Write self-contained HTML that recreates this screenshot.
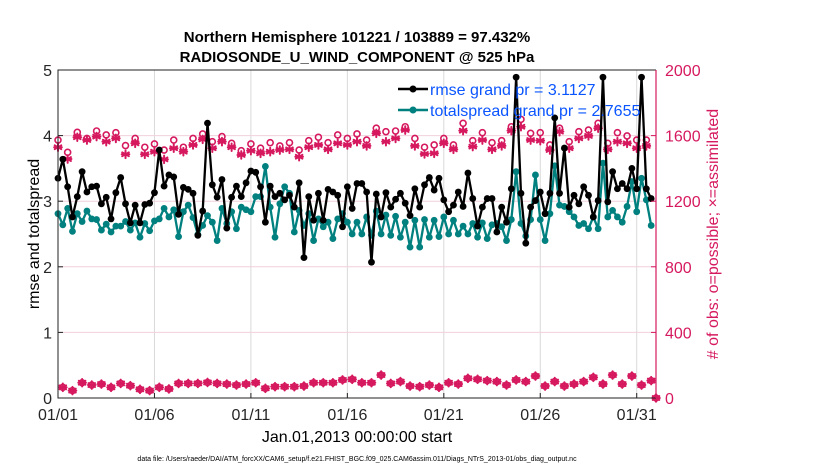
<!DOCTYPE html>
<html><head><meta charset="utf-8"><style>
html,body{margin:0;padding:0;background:#fff;}
svg{display:block;font-family:"Liberation Sans",Arial,sans-serif;}
</style></head><body>
<svg id="chart" width="830" height="470" viewBox="0 0 830 470">
<g id="grid"></g>
<g id="series"></g>
<g id="axes"></g>
<text x="357" y="42" text-anchor="middle" font-size="15" font-weight="bold">Northern Hemisphere 101221 / 103889 = 97.432%</text>
<text x="357" y="62" text-anchor="middle" font-size="15" font-weight="bold">RADIOSONDE_U_WIND_COMPONENT @ 525 hPa</text>
<text transform="translate(39,234) rotate(-90)" text-anchor="middle" font-size="16">rmse and totalspread</text>
<text transform="translate(718,234) rotate(-90)" text-anchor="middle" font-size="16" fill="#d6195f"># of obs: o=possible; ×=assimilated</text>
<text x="357" y="442" text-anchor="middle" font-size="16">Jan.01,2013 00:00:00 start</text>
<text x="357" y="461" text-anchor="middle" font-size="7">data file: /Users/raeder/DAI/ATM_forcXX/CAM6_setup/f.e21.FHIST_BGC.f09_025.CAM6assim.011/Diags_NTrS_2013-01/obs_diag_output.nc</text>
<g>
<line x1="398" y1="89" x2="428" y2="89" stroke="#000" stroke-width="2.5"/>
<circle cx="413" cy="89" r="3.5" fill="#000"/>
<text x="430" y="95" font-size="16" fill="#0a55ff">rmse grand pr = 3.1127</text>
<line x1="398" y1="110" x2="428" y2="110" stroke="#00807f" stroke-width="2.5"/>
<circle cx="413" cy="110" r="3.5" fill="#00807f"/>
<text x="430" y="116" font-size="16" fill="#0a55ff">totalspread grand pr = 2.7655</text>
</g>
</svg>
<script>
const rmse = [3.35,3.64,3.22,2.76,3.07,3.45,3.14,3.22,3.23,2.96,3.06,2.73,3.13,3.36,2.96,2.67,2.94,2.67,2.95,2.97,3.13,
3.78,3.23,3.40,3.37,2.80,3.21,3.18,3.12,2.48,2.85,4.19,3.25,3.06,3.33,2.59,3.06,3.23,3.07,3.28,3.46,3.44,
3.22,2.68,3.23,3.07,3.12,3.02,3.09,2.91,3.28,2.14,3.07,2.71,3.12,2.71,3.18,3.14,3.09,2.61,3.22,2.89,3.27,
3.27,3.14,2.07,3.11,2.76,3.13,2.91,3.03,3.12,2.97,2.78,3.19,2.91,3.25,3.36,3.17,3.35,3.02,2.84,2.94,3.14,
2.92,3.43,3.04,2.62,2.91,3.04,3.04,2.53,2.91,2.68,3.19,4.89,3.12,2.36,2.91,3.01,3.14,2.81,3.12,4.27,3.12,
3.81,2.91,3.09,2.96,3.22,3.09,2.76,3.01,4.89,2.99,3.45,3.19,3.27,3.19,3.50,3.19,4.89,3.19,3.04];
const spread = [2.81,2.64,2.89,2.54,2.81,2.69,2.85,2.73,2.72,2.56,2.65,2.53,2.62,2.62,2.69,2.56,2.67,2.45,2.66,2.55,2.70,
2.73,2.89,2.76,2.87,2.46,2.84,2.94,2.75,2.49,2.63,2.78,2.68,2.40,2.89,2.66,2.84,2.58,2.91,2.87,2.84,3.07,
3.07,3.53,2.91,2.45,2.96,3.22,3.12,2.53,2.86,2.63,2.81,2.40,2.73,2.61,2.68,2.43,2.73,2.81,2.68,2.50,2.68,
2.50,2.76,2.48,2.85,2.50,2.79,2.48,2.77,2.45,2.68,2.30,2.71,2.30,2.72,2.45,2.71,2.46,2.76,2.50,2.71,2.50,
2.62,2.50,2.66,2.45,2.67,2.43,2.64,2.66,2.61,2.40,2.72,3.45,2.66,2.47,2.72,3.40,2.72,2.40,2.81,3.54,2.94,
2.92,2.84,2.76,2.63,2.66,2.58,2.76,2.58,3.58,2.76,2.86,2.76,2.68,2.92,3.30,2.84,3.35,3.02,2.63];
// obs at 00Z/12Z (every 12h starting hour 0)
const obsPossibleMain = [1573,1498,1620,1583,1628,1604,1618,1539,1583,1529,1549,
1512,1573,1529,1583,1610,1563,1594,1553,1508,1549,
1523,1557,1537,1557,1512,1569,1590,1557,1604,1583,1610,
1573,1645,1624,1628,1654,1583,1529,1543,1583,1543,
1675,1569,1618,1557,1569,1654,1699,1614,1618,1543,
1645,1563,1624,1634,1675,1553,1618,1598,1573,1573];
const obsAssimMain = [1529,1457,1590,1573,1594,1563,1583,1486,1553,1486,1502,
1455,1523,1502,1543,1577,1523,1563,1529,1482,1508,
1492,1502,1512,1516,1471,1529,1543,1516,1553,1543,1563,
1537,1614,1563,1583,1634,1537,1488,1492,1553,1516,
1630,1533,1573,1516,1537,1630,1654,1573,1569,1512,
1624,1523,1583,1598,1645,1516,1563,1553,1523,1537];
// obs at 06Z/18Z (every 12h starting hour 6), plus final 02/01 00Z
const obsOffHour = [65,45,93,79,85,65,89,75,53,45,65,55,89,89,89,95,89,
85,79,85,93,59,69,69,69,73,93,93,93,110,114,93,93,140,89,100,73,69,79,65,93,85,120,114,
106,100,79,110,100,134,73,100,73,85,100,126,85,140,85,134,79,106];
const obsFinal = [0];
const leftTicks = [0,1,2,3,4,5];
const rightTicks = [0,400,800,1200,1600,2000];
const dateTickDays = [0,5,10,15,20,25,30];
const dateTickLabels = ['01/01','01/06','01/11','01/16','01/21','01/26','01/31'];

const X0=58,X1=656,Y0=398,Y1=70,NDAYS=31;
const xs = h => X0 + h/(NDAYS*24)*(X1-X0);
const yl = v => Y0 - v/5*(Y0-Y1);
const yr = n => Y0 - n/2000*(Y0-Y1);
const NS='http://www.w3.org/2000/svg';
const PINK='#d6195f', TEAL='#00807f';
function mk(tag, attrs, parent){const e=document.createElementNS(NS,tag);for(const k in attrs)e.setAttribute(k,attrs[k]);parent.appendChild(e);return e;}
const grid=document.getElementById('grid'), ser=document.getElementById('series'), ax=document.getElementById('axes');

dateTickDays.forEach((d,i)=>{
  const x=xs(d*24);
  if(d>0){const g=mk('line',{x1:x,y1:Y1,x2:x,y2:Y0,stroke:'#d9d9d9','stroke-width':1},grid);
  
  }
  const t=mk('line',{x1:x,y1:Y0,x2:x,y2:Y0-5,stroke:'#222','stroke-width':1},ax);
  
  
  const l=mk('text',{x:x,y:Y0+22,'text-anchor':'middle','font-size':16,fill:'#262626'},ax);
  l.textContent=dateTickLabels[i];
  
  
});
rightTicks.forEach(n=>{
  const y=yr(n);
  if(n>0&&n<2000){const g=mk('line',{x1:X0,y1:y,x2:X1,y2:y,stroke:'#f0d0dc','stroke-width':1},grid);
  
  }
  const t=mk('line',{x1:X1,y1:y,x2:X1-5,y2:y,stroke:PINK,'stroke-width':1},ax);
  
  
  const l=mk('text',{x:X1+9,y:y+6,'font-size':16,fill:PINK},ax);
  l.textContent=n;
  
  
});
leftTicks.forEach(v=>{
  const y=yl(v);
  const t=mk('line',{x1:X0,y1:y,x2:X0+5,y2:y,stroke:'#222','stroke-width':1},ax);
  
  
  const l=mk('text',{x:X0-6,y:y+6,'text-anchor':'end','font-size':16,fill:'#262626'},ax);
  l.textContent=v;
  
  
});
const fr=mk('path',{d:`M${X1},${Y1} L${X0},${Y1} L${X0},${Y0} L${X1},${Y0}`,fill:'none',stroke:'#222','stroke-width':1},ax);


const ra=mk('line',{x1:X1,y1:Y1,x2:X1,y2:Y0,stroke:PINK,'stroke-width':1.2},ax);



function star(x,y,name){
  const g=mk('g',{stroke:PINK,'stroke-width':2,'stroke-linecap':'round'},ser);
  
  
  const r=3.8;
  [0,60,120].forEach(a=>{const c=Math.cos(a*Math.PI/180)*r,s=Math.sin(a*Math.PI/180)*r;
    mk('line',{x1:x-s,y1:y-c,x2:x+s,y2:y+c},g);});
  mk('line',{x1:x-r,y1:y,x2:x+r,y2:y},g);
}
function ring(x,y,name){
  const c=mk('circle',{cx:x,cy:y,r:3,fill:'none',stroke:PINK,'stroke-width':1.6},ser);
  
  
}
obsPossibleMain.forEach((n,i)=>ring(xs(i*12),yr(n),'obs-possible-point'));
obsAssimMain.forEach((n,i)=>star(xs(i*12),yr(n),'obs-assimilated-point'));
obsOffHour.forEach((n,i)=>{const x=xs(6+i*12),y=yr(n);ring(x,y,'obs-possible-point');star(x,y,'obs-assimilated-point');});
obsFinal.forEach((n,i)=>{const x=xs(NDAYS*24),y=yr(n);ring(x,y,'obs-possible-point');star(x,y,'obs-assimilated-point');});

function line(vals,color,name){
  const p=mk('polyline',{points:vals.map((v,i)=>xs(i*6)+','+yl(v)).join(' '),fill:'none',stroke:color,'stroke-width':2.3,'stroke-linejoin':'round'},ser);
  
  
  vals.forEach((v,i)=>{const c=mk('circle',{cx:xs(i*6),cy:yl(v),r:3.4,fill:color},ser);
    
    });
}
line(spread,TEAL,'totalspread');
line(rmse,'#000','rmse');
</script>
</body></html>
